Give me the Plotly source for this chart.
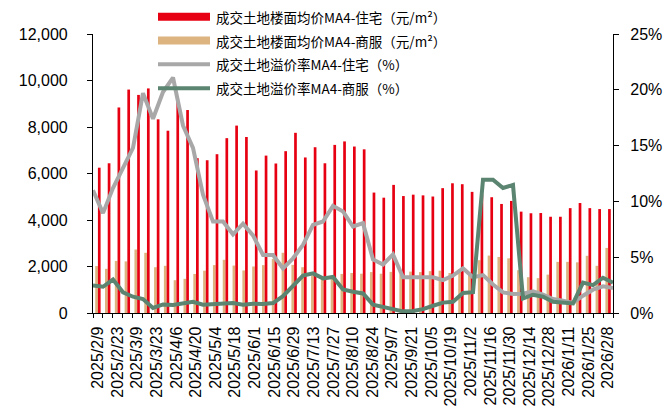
import plotly.graph_objects as go

dates = ["2025/2/9", "2025/2/16", "2025/2/23", "2025/3/2", "2025/3/9", "2025/3/16", "2025/3/23",
         "2025/3/30", "2025/4/6", "2025/4/13", "2025/4/20", "2025/4/27", "2025/5/4", "2025/5/11",
         "2025/5/18", "2025/5/25", "2025/6/1", "2025/6/8", "2025/6/15", "2025/6/22", "2025/6/29",
         "2025/7/6", "2025/7/13", "2025/7/20", "2025/7/27", "2025/8/3", "2025/8/10", "2025/8/17",
         "2025/8/24", "2025/8/31", "2025/9/7", "2025/9/14", "2025/9/21", "2025/9/28", "2025/10/5",
         "2025/10/12", "2025/10/19", "2025/10/26", "2025/11/2", "2025/11/9", "2025/11/16",
         "2025/11/23", "2025/11/30", "2025/12/7", "2025/12/14", "2025/12/21", "2025/12/28",
         "2026/1/4", "2026/1/11", "2026/1/18", "2026/1/25", "2026/2/1", "2026/2/8"]

res_price = [6250, 6440, 8840, 9610, 9380, 9660, 8330, 7840, 9200, 8730,
             6660, 6570, 6830, 7520, 8060, 7570, 6130, 6770, 6430, 6960,
             7750, 6690, 7130, 6440, 7230, 7380, 7160, 7040, 5180, 4960,
             5510, 5030, 5090, 5060, 5010, 5370, 5580, 5540, 5210, 5100,
             4980, 4690, 4820, 4360, 4290, 4300, 4140, 4140, 4510, 4730,
             4510, 4470, 4470]

com_price = [2020, 1900, 2240, 2220, 2730, 2590, 1970, 2030, 1410, 1470,
             1680, 1820, 2060, 2290, 2040, 1830, 2000, 2060, 2330, 2590,
             2070, 1970, 1620, 1470, 1560, 1680, 1720, 1690, 1760, 1690,
             1770, 1660, 1780, 1760, 1800, 1820, 1720, 1880, 1760, 2270,
             2470, 2410, 2350, 1840, 1540, 1500, 1650, 2200, 2200, 2180,
             2460, 2030, 2800]

res_premium = [11.0, 8.95, 11.2, 13.0, 14.8, 19.7, 17.4, 19.8, 21.1, 16.8,
               14.8, 10.6, 8.2, 8.2, 7.05, 8.0, 6.95, 5.2, 5.2, 4.0,
               4.9, 6.1, 7.9, 8.2, 9.6, 9.1, 7.75, 8.05, 4.8, 4.35,
               5.25, 3.2, 3.2, 3.15, 3.2, 2.95, 3.35, 4.0, 3.2, 3.4,
               2.55, 1.85, 1.7, 1.73, 1.94, 1.64, 1.25, 1.1, 0.9, 1.55,
               2.09, 2.39, 2.24]

com_premium = [2.46, 2.35, 3.0, 1.85, 1.46, 1.25, 0.45, 0.77, 0.72, 0.87,
               1.0, 0.75, 0.8, 0.89, 0.89, 0.74, 0.83, 0.8, 0.89, 1.5,
               2.45, 3.35, 3.55, 3.1, 3.23, 2.1, 1.9, 1.75, 0.75, 0.54,
               0.3, 0.15, 0.18, 0.35, 0.65, 0.93, 1.0, 1.79, 1.86, 11.95,
               11.95, 11.2, 11.47, 1.3, 1.64, 1.46, 1.0, 0.9, 0.86, 2.72,
               2.5, 3.16, 2.72]

left_ticks = [0, 2000, 4000, 6000, 8000, 10000, 12000]
right_ticks = [0, 5, 10, 15, 20, 25]

names = ["成交土地楼面均价MA4-住宅（元/m²）", "成交土地楼面均价MA4-商服（元/m²）",
         "成交土地溢价率MA4-住宅（%）", "成交土地溢价率MA4-商服（%）"]

RED = "#E60012"
TAN = "#DDB47F"
GRAY = "#A8A8A8"
GREEN = "#5B8471"

W, H = 670, 416
ML, MR, MT, MB = 93, 57, 34, 103
PW, PH = W - ML - MR, H - MT - MB

idx = list(range(len(dates)))

fig = go.Figure()
fig.add_trace(go.Bar(x=idx, y=com_price, name=names[1], marker_color=TAN,
                     marker_line_width=0, showlegend=False))
fig.add_trace(go.Bar(x=idx, y=res_price, name=names[0], marker_color=RED,
                     marker_line_width=0, showlegend=False))
fig.add_trace(go.Scatter(x=idx, y=res_premium, name=names[2], mode="lines",
                         line=dict(color=GRAY, width=4), xaxis="x2", yaxis="y2",
                         showlegend=False))
fig.add_trace(go.Scatter(x=idx, y=com_premium, name=names[3], mode="lines",
                         line=dict(color=GREEN, width=4), xaxis="x2", yaxis="y2",
                         showlegend=False))

tick_font = dict(family="Liberation Sans, Arial, sans-serif", size=16, color="#000")

fig.update_layout(
    width=W, height=H,
    margin=dict(l=ML, r=MR, t=MT, b=MB, pad=0, autoexpand=False),
    paper_bgcolor="white", plot_bgcolor="white",
    barmode="group", bargap=0.45, bargroupgap=0,
    xaxis=dict(range=[-0.5, len(dates) - 0.5], tickmode="array",
               tickvals=idx[::2], ticktext=dates[::2], tickangle=-90,
               ticks="", showline=True, linecolor="#000", linewidth=1.2,
               showgrid=False, zeroline=False, tickfont=tick_font,
               ticklabelstandoff=6, automargin=False,
               minor=dict(tick0=-0.5, dtick=1, ticks="outside", ticklen=4,
                          tickcolor="#000", tickwidth=1, showgrid=False)),
    xaxis2=dict(range=[0, len(dates) - 1], overlaying="x", anchor="y2",
                visible=False, showgrid=False, automargin=False),
    yaxis=dict(range=[0, 12000], tickmode="array", tickvals=left_ticks,
               ticktext=[f"{v:,}" for v in left_ticks],
               ticks="outside", ticklen=5, tickcolor="#000",
               showline=True, linecolor="#000", linewidth=1.2,
               showgrid=False, zeroline=False, tickfont=tick_font,
               ticklabelstandoff=16, automargin=False),
    yaxis2=dict(range=[0, 25], tickmode="array", tickvals=right_ticks,
                ticktext=[f"{v}%" for v in right_ticks],
                overlaying="y", side="right", anchor="x",
                ticks="outside", ticklen=5, tickcolor="#000",
                showline=True, linecolor="#000", linewidth=1.2,
                showgrid=False, zeroline=False, tickfont=tick_font,
                ticklabelstandoff=8, automargin=False),
)


def px_x(px):
    return (px - ML) / PW


def px_y(py):
    return (H - MB - py) / PH


leg_x0, leg_x1, txt_x = 158, 210, 214
rows = [16.7, 40.5, 64.3, 88.3]
shapes = []
shapes.append(dict(type="rect", xref="paper", yref="paper", x0=px_x(leg_x0), x1=px_x(leg_x1),
                   y0=px_y(rows[0] + 4), y1=px_y(rows[0] - 4), fillcolor=RED, line_width=0,
                   layer="above"))
shapes.append(dict(type="rect", xref="paper", yref="paper", x0=px_x(leg_x0), x1=px_x(leg_x1),
                   y0=px_y(rows[1] + 4), y1=px_y(rows[1] - 4), fillcolor=TAN, line_width=0,
                   layer="above"))
shapes.append(dict(type="line", xref="paper", yref="paper", x0=px_x(leg_x0), x1=px_x(leg_x1),
                   y0=px_y(rows[2]), y1=px_y(rows[2]), line=dict(color=GRAY, width=4),
                   layer="above"))
shapes.append(dict(type="line", xref="paper", yref="paper", x0=px_x(leg_x0), x1=px_x(leg_x1),
                   y0=px_y(rows[3]), y1=px_y(rows[3]), line=dict(color=GREEN, width=4),
                   layer="above"))
fig.update_layout(shapes=shapes)

for name, ry in zip(names, rows):
    fig.add_annotation(xref="paper", yref="paper", x=px_x(txt_x), y=px_y(ry),
                       text=name, showarrow=False, xanchor="left", yanchor="middle",
                       font=dict(family="Noto Sans CJK SC, sans-serif", size=13.5, color="#000"))

fig.write_html("out.html", config={"displayModeBar": False},
               post_script="document.body.style.margin='0';document.body.style.overflow='hidden';")
